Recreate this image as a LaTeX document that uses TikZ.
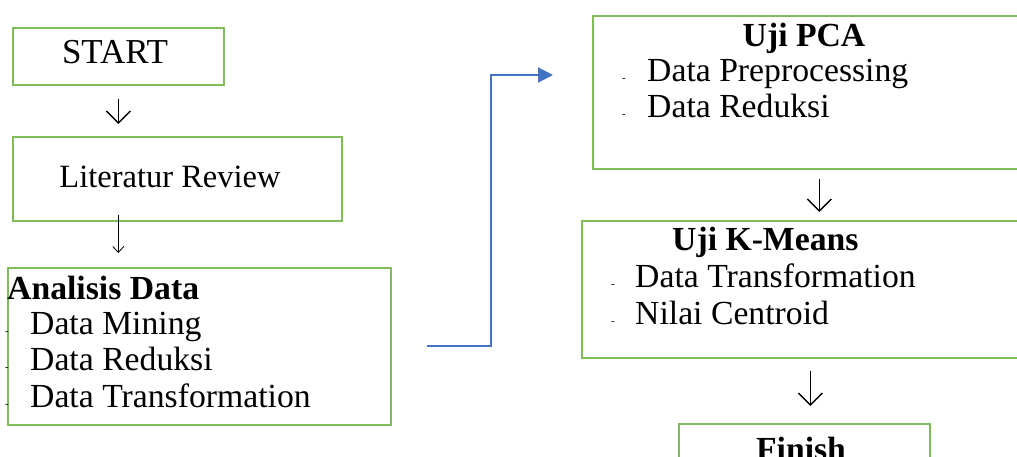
\documentclass[tikz,border=0pt]{standalone}
\usepackage{fontspec}
\setmainfont{Liberation Serif}
\usetikzlibrary{arrows.meta}
\definecolor{boxgreen}{RGB}{128,188,88}
\definecolor{flowblue}{RGB}{68,114,196}
\begin{document}
\begin{tikzpicture}[x=1pt,y=-1pt,
  box/.style={draw=boxgreen,line width=1.6pt,rectangle,inner sep=0pt,anchor=north west},
  txt/.style={inner sep=0pt,font=\fontsize{33.7}{37}\selectfont},
  btxt/.style={inner sep=0pt,font=\fontsize{33.7}{37}\selectfont\bfseries},
  dashmark/.style={inner sep=0pt,font=\fontsize{11}{11}\selectfont,anchor=base west},
  bigdown/.style={draw=black,line width=1.4pt,-{Straight Barb[length=12pt,width=24pt]}},
  smalldown/.style={draw=black,line width=0.8pt,-{Straight Barb[length=6pt,width=11pt]}},
  bluelink/.style={draw=flowblue,line width=2pt,-{Triangle[length=15pt,width=15pt]}}
]
\useasboundingbox (0,0) rectangle (1017,457);

% boxes
\node[box,minimum width=211pt,minimum height=57pt] (start) at (12,27) {};
\node[box,minimum width=329pt,minimum height=84pt] (lit) at (12,136) {};
\node[box,minimum width=383pt,minimum height=157pt] (anal) at (7,267) {};
\node[box,minimum width=427pt,minimum height=153pt] (pca) at (592,15) {};
\node[box,minimum width=438pt,minimum height=137pt] (km) at (581,220) {};
\node[box,minimum width=251pt,minimum height=70pt] (fin) at (678,423) {};

% texts
\node[txt,anchor=base,font=\fontsize{35}{37}\selectfont] (startlbl) at (115,64) {START};
\node[txt,anchor=base,font=\fontsize{32.5}{37}\selectfont] (litlbl) at (170,188) {Literatur Review};

\node[btxt,anchor=base west] (analtitle) at (7,299) {Analisis Data};
\node[txt,anchor=base west] (a1) at (30,334) {Data Mining};
\node[txt,anchor=base west] (a2) at (30,370) {Data Reduksi};
\node[txt,anchor=base west] (a3) at (30,407) {Data Transformation};
\node[dashmark] (ad1) at (5,334) {-};
\node[dashmark] (ad2) at (5,370) {-};
\node[dashmark] (ad3) at (5,407) {-};

\node[btxt,anchor=base] (pcatitle) at (804,47) {Uji PCA};
\node[txt,anchor=base west] (p1) at (647,82) {Data Preprocessing};
\node[txt,anchor=base west] (p2) at (647,118) {Data Reduksi};
\node[dashmark] (pd1) at (622,82) {-};
\node[dashmark] (pd2) at (622,118) {-};

\node[btxt,anchor=base west] (kmtitle) at (672,250) {Uji K-Means};
\node[txt,anchor=base west] (k1) at (635,287) {Data Transformation};
\node[txt,anchor=base west] (k2) at (635,324) {Nilai Centroid};
\node[dashmark] (kd1) at (611,287) {-};
\node[dashmark] (kd2) at (611,324) {-};

\node[btxt,anchor=base] (finlbl) at (801,460) {Finish};

% connectors
\draw[bigdown,shorten <=13pt,shorten >=12pt] (start.south) -- (start.south |- lit.north);
\draw[smalldown,shorten <=-7pt,shorten >=14pt] (start.south |- lit.south) -- (start.south |- anal.north);
\coordinate (pcain) at ([xshift=-39pt]pca.west |- 0,75);
\draw[bluelink] ([xshift=35pt]anal.east) -- ++(64,0) |- (pcain);
\draw[bigdown,shorten <=9pt,shorten >=8pt] ([xshift=13pt]pca.south) -- ([xshift=13pt]pca.south |- km.north);
\draw[bigdown,shorten <=12pt,shorten >=17pt] ([xshift=6pt]fin.north |- km.south) -- ([xshift=6pt]fin.north);
\end{tikzpicture}
\end{document}
